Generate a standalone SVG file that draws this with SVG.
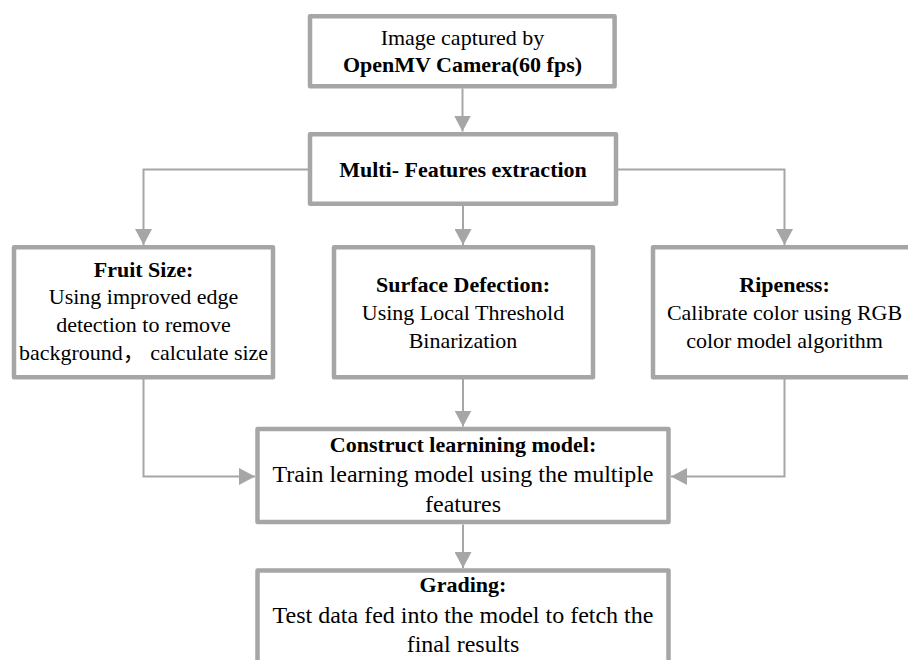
<svg xmlns="http://www.w3.org/2000/svg" width="908" height="660" viewBox="0 0 908 660">
<style>
.box{fill:#ffffff;stroke:#a6a6a6;stroke-width:4.5;stroke-linejoin:round}
.con{fill:none;stroke:#a6a6a6;stroke-width:2}
text{font-family:"Liberation Serif","Noto Sans CJK SC",serif;fill:#000;text-anchor:middle;font-size:22px}
.b{font-weight:bold}
.l{font-size:24px}
</style>
<defs>
<marker id="ah" markerUnits="userSpaceOnUse" markerWidth="16" markerHeight="17" refX="16" refY="8.5" orient="auto">
<path d="M0,0 L16,8.5 L0,17 Z" fill="#a6a6a6"/>
</marker>
</defs>
<rect width="908" height="660" fill="#ffffff"/>
<g id="connectors">
<path class="con" d="M462.5 88.5 V131.5" marker-end="url(#ah)"/>
<path class="con" d="M308 169.5 H143.5 V245" marker-end="url(#ah)"/>
<path class="con" d="M463 206 V245" marker-end="url(#ah)"/>
<path class="con" d="M618 169.5 H784.5 V245" marker-end="url(#ah)"/>
<path class="con" d="M143.5 379 V476.5 H255" marker-end="url(#ah)"/>
<path class="con" d="M463 379 V426.5" marker-end="url(#ah)"/>
<path class="con" d="M784.5 379 V476.5 H671" marker-end="url(#ah)"/>
<path class="con" d="M463 524.5 V568" marker-end="url(#ah)"/>
</g>
<g id="camera">
<rect class="box" x="310" y="16.2" width="304.6" height="70"/>
<text x="462.5" y="45">Image captured by</text>
<text class="b" x="462.5" y="72">OpenMV Camera(60 fps)</text>
</g>
<g id="extraction">
<rect class="box" x="310" y="134.2" width="306" height="69.6"/>
<text class="b" x="463" y="176.5">Multi- Features extraction</text>
</g>
<g id="fruit-size">
<rect class="box" x="14" y="247.2" width="259" height="130"/>
<text class="b" x="143.5" y="276.7">Fruit Size:</text>
<text x="143.5" y="304">Using improved edge</text>
<text x="143.5" y="331.7">detection to remove</text>
<text x="143.5" y="359.5">background，  calculate size</text>
</g>
<g id="surface">
<rect class="box" x="334" y="247.2" width="259" height="130"/>
<text class="b" x="463" y="291.7">Surface Defection:</text>
<text x="463" y="320">Using Local Threshold</text>
<text x="463" y="348">Binarization</text>
</g>
<g id="ripeness">
<rect class="box" x="653" y="247.2" width="262" height="130"/>
<text class="b" x="784.5" y="291.7">Ripeness:</text>
<text x="784.5" y="320">Calibrate color using RGB</text>
<text x="784.5" y="348">color model algorithm</text>
</g>
<g id="model">
<rect class="box" x="257.5" y="429" width="411" height="93"/>
<text class="b" x="463" y="451.7">Construct learnining model:</text>
<text class="l" x="463" y="481.7">Train learning model using the multiple</text>
<text class="l" x="463" y="511.5">features</text>
</g>
<g id="grading">
<rect class="box" x="257.5" y="570.5" width="411" height="110"/>
<text class="b" x="463" y="591.7">Grading:</text>
<text class="l" x="463" y="622.5">Test data fed into the model to fetch the</text>
<text class="l" x="463" y="651.5">final results</text>
</g>
</svg>
